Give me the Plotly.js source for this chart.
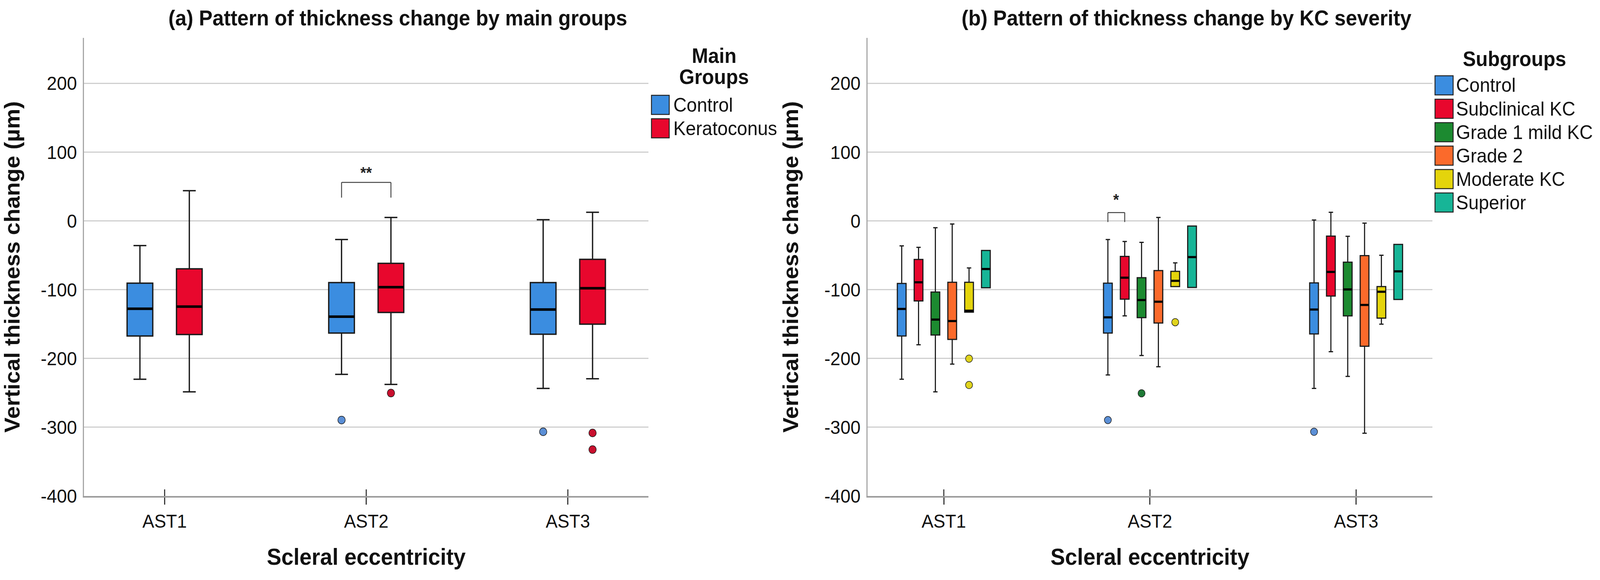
<!DOCTYPE html>
<html>
<head>
<meta charset="utf-8">
<script src="https://cdn.plot.ly/plotly-3.0.1.min.js"></script>
<style>
html, body { margin: 0; padding: 0; background: #ffffff; overflow: hidden; }
#chart { width: 4325px; height: 1485px; transform-origin: 0 0; }
</style>
</head>
<body>
<div id="chart"></div>
<script>
// ---------------- DATA ----------------
const categories = ['AST1', 'AST2', 'AST3'];
const yTickVals = [-400, -300, -200, -100, 0, 100, 200];
const yTickText = ['-400', '-300', '-200', '-100', '0', '100', '200'];

// (a) main groups: one row per group, one value per category
const mainGroups   = ['Control', 'Keratoconus'];
const mainLower    = [[-230.3, -223.2, -243.6], [-248.6, -237.8, -229.5]];
const mainQ1       = [[-167.3, -163.1, -164.8], [-165.2, -133.1, -150.2]];
const mainMedian   = [[-127.7, -139.3, -128.9], [-124.7,  -96.4,  -98.0]];
const mainQ3       = [[ -90.5,  -89.7,  -89.7], [ -69.7,  -61.7,  -55.9]];
const mainUpper    = [[ -35.9,  -27.1,    1.7], [  43.8,    5.0,   12.5]];
const mainOutliers = [[[], [-289.5], [-306.6]], [[], [-250.3], [-308.3, -332.5]]];

// (b) subgroups
const subGroups   = ['Control', 'Subclinical KC', 'Grade 1 mild KC', 'Grade 2', 'Moderate KC', 'Superior'];
const subLower    = [[-230.3, -224.0, -243.6], [-180.2, -138.1, -190.2], [-248.6, -195.7, -226.1],
                     [-208.2, -212.0, -308.7], [-132.7,  -95.5, -150.2], [ -97.2,  -96.8, -114.3]];
const subQ1       = [[-167.3, -163.1, -164.4], [-116.4, -113.9, -109.3], [-166.0, -140.6, -138.1],
                     [-172.3, -148.5, -182.3], [-132.7,  -95.5, -141.4], [ -97.2,  -96.8, -114.3]];
const subMedian   = [[-128.0, -140.2, -128.9], [ -89.3,  -82.6,  -74.3], [-143.5, -115.1,  -99.7],
                     [-145.6, -117.6, -122.2], [-130.6,  -87.2, -103.0], [ -70.0,  -52.6,  -73.4]];
const subQ3       = [[ -91.0,  -90.5,  -90.1], [ -56.0,  -51.7,  -22.1], [-103.5,  -82.6,  -60.0],
                     [ -89.3,  -72.2,  -50.5], [ -89.3,  -73.4,  -95.5], [ -43.0,   -7.5,  -34.2]];
const subUpper    = [[ -36.3,  -27.1,    1.3], [ -38.4,  -30.0,   12.5], [ -10.0,  -31.3,  -22.5],
                     [  -4.6,    5.0,   -3.3], [ -68.4,  -61.0,  -50.0], [ -43.0,   -7.5,  -34.2]];
const subOutliers = [[[], [-289.5], [-306.6]], [[], [], []], [[], [-250.7], []],
                     [[], [], []], [[-200.3, -238.6], [-147.3], []], [[], [], []]];

// ---------------- STYLES / LAYOUT CONSTANTS ----------------
const mainFill        = ['#3b8de0', '#e8072d'];
const mainOutlierFill = ['#5b8fd6', '#c8102e'];
const subFill         = ['#3b8de0', '#e8072d', '#1c8a30', '#fb6a2b', '#e4d40c', '#17b597'];
const subOutlierFill  = ['#5b8fd6', '#c8102e', '#1f7a36', '#f07030', '#e0d41e', '#20a890'];

const W = 4325, H = 1485, PLOT_TOP = 97, PLOT_BOTTOM = 1270;
const BOXGAP = 0.51, BOXGROUPGAP = 0.48;
const FONT = 'Liberation Sans, Arial, Helvetica, sans-serif';
const INK = '#111111';
const px = v => v / W;
const py = v => (PLOT_BOTTOM - v) / (PLOT_BOTTOM - PLOT_TOP);
const slotOffset = (k, n) => (-0.5 + (k + 0.5) / n) * (1 - BOXGAP);

// the window may be narrower than the 4325x1485 design: stretch the drawing to fill it exactly
(function fit() {
  const sx = window.innerWidth / W, sy = window.innerHeight / H;
  if (Math.abs(sx - 1) > 0.002 || Math.abs(sy - 1) > 0.002) {
    document.getElementById('chart').style.transform = 'scale(' + sx + ',' + sy + ')';
  }
})();

// ---------------- TRACES ----------------
function boxTraces(panel, xa, ya, names, lower, q1, med, q3, upper, outl, fills, ofills, lw, mw, ms) {
  const main = [], medians = [];
  names.forEach((name, k) => {
    const t = {
      type: 'box', name: name, xaxis: xa, yaxis: ya, orientation: 'v', x: categories,
      q1: q1[k], median: med[k], q3: q3[k], lowerfence: lower[k], upperfence: upper[k],
      offsetgroup: panel + k, fillcolor: fills[k],
      line: { color: '#1a1a1a', width: lw }, whiskerwidth: 0.5,
      showlegend: false, hoverinfo: 'skip'
    };
    if (outl[k].some(r => r.length)) {
      t.y = outl[k].map(r => (r.length ? r : [null]));
      t.boxpoints = 'outliers';
      t.pointpos = 0;
      t.jitter = 0;
      t.marker = { color: ofills[k], size: ms, line: { color: '#1d1d1d', width: 1.5 } };
    } else {
      t.boxpoints = false;
    }
    main.push(t);
    medians.push({
      type: 'box', xaxis: xa, yaxis: ya, orientation: 'v', x: categories,
      q1: med[k], median: med[k], q3: med[k], lowerfence: med[k], upperfence: med[k],
      offsetgroup: panel + k, fillcolor: 'rgba(0,0,0,0)',
      line: { color: '#000000', width: mw }, whiskerwidth: 0, boxpoints: false,
      showlegend: false, hoverinfo: 'skip'
    });
  });
  return main.concat(medians);
}

const traces = [].concat(
  boxTraces('L', 'x', 'y', mainGroups, mainLower, mainQ1, mainMedian, mainQ3, mainUpper,
            mainOutliers, mainFill, mainOutlierFill, 3.5, 6.5, 20),
  boxTraces('R', 'x2', 'y2', subGroups, subLower, subQ1, subMedian, subQ3, subUpper,
            subOutliers, subFill, subOutlierFill, 3, 5.5, 19)
);

// ---------------- AXES ----------------
function xaxisCfg(domain, range, anchor) {
  return {
    domain: domain, range: range, anchor: anchor, type: 'category',
    categoryorder: 'array', categoryarray: categories,
    showline: true, linecolor: '#9c9c9c', linewidth: 4, showgrid: false, zeroline: false,
    ticks: 'outside', ticklen: 18, tickwidth: 3, tickcolor: '#3a3a3a', ticklabelstandoff: 1,
    tickfont: { family: FONT, size: 48, color: INK },
    title: { text: '<b>Scleral eccentricity</b>', font: { family: FONT, size: 59, color: INK }, standoff: 46 },
    fixedrange: true
  };
}
function yaxisCfg(anchor) {
  return {
    domain: [0, 1], anchor: anchor, range: [-400, 266], type: 'linear',
    tickmode: 'array', tickvals: yTickVals, ticktext: yTickText,
    showline: true, linecolor: '#a8a8a8', linewidth: 3,
    showgrid: true, gridcolor: '#cfcfcf', gridwidth: 3, zeroline: false,
    ticks: '', ticklabelstandoff: 6,
    tickfont: { family: FONT, size: 49, color: INK },
    title: { text: '<b>Vertical thickness change (µm)</b>', font: { family: FONT, size: 58, color: INK }, standoff: 52 },
    fixedrange: true
  };
}

// ---------------- SHAPES & ANNOTATIONS ----------------
const shapes = [];
const annotations = [];

[['x', 'y'], ['x2', 'y2']].forEach(([xr, yr]) => {
  categories.forEach((c, i) => {
    shapes.push({ type: 'line', xref: xr, yref: yr, x0: i, x1: i, ysizemode: 'pixel', yanchor: -400,
                  y0: 0, y1: 17, line: { color: '#3a3a3a', width: 3 } });
  });
});

function bracket(xr, yr, cat, a, b, n, low, high, starY, label) {
  const xa = cat + slotOffset(a, n), xb = cat + slotOffset(b, n);
  const ln = { color: '#444444', width: 2.5 };
  shapes.push({ type: 'line', xref: xr, yref: yr, x0: xa, x1: xa, y0: low, y1: high, line: ln });
  shapes.push({ type: 'line', xref: xr, yref: yr, x0: xb, x1: xb, y0: low, y1: high, line: ln });
  shapes.push({ type: 'line', xref: xr, yref: yr, x0: xa, x1: xb, y0: high, y1: high, line: ln });
  annotations.push({ xref: xr, yref: yr, x: (xa + xb) / 2, y: starY, text: '<b>' + label + '</b>',
                     showarrow: false, font: { family: FONT, size: 40, color: '#222' } });
}
bracket('x', 'y', 1, 0, 1, 2, 33.8, 55.9, 70, '**');
bracket('x2', 'y2', 1, 0, 1, 6, -1.7, 12.1, 31, '*');

annotations.push({ xref: 'paper', yref: 'paper', x: px(1075), y: py(46), xanchor: 'center', yanchor: 'middle',
  text: '<b>(a) Pattern of thickness change by main groups</b>', showarrow: false,
  font: { family: FONT, size: 55, color: INK } });
annotations.push({ xref: 'paper', yref: 'paper', x: px(3207), y: py(46), xanchor: 'center', yanchor: 'middle',
  text: '<b>(b) Pattern of thickness change by KC severity</b>', showarrow: false,
  font: { family: FONT, size: 55, color: INK } });

function legend(titles, names, fills, swX0, swX1, top0, step, size, textX) {
  titles.forEach(t => annotations.push({ xref: 'paper', yref: 'paper', x: px(t.x), y: py(t.y),
    xanchor: 'center', yanchor: 'middle', text: '<b>' + t.text + '</b>', showarrow: false,
    font: { family: FONT, size: 53, color: INK } }));
  names.forEach((nm, k) => {
    const top = top0 + k * step;
    shapes.push({ type: 'rect', xref: 'paper', yref: 'paper', x0: px(swX0), x1: px(swX1),
      y0: py(top + size), y1: py(top), fillcolor: fills[k], line: { color: '#222', width: 2.5 } });
    annotations.push({ xref: 'paper', yref: 'paper', x: px(textX), y: py(top + size / 2),
      xanchor: 'left', yanchor: 'middle', text: nm, showarrow: false,
      font: { family: FONT, size: 50, color: INK } });
  });
}
legend([{ text: 'Main', x: 1930, y: 143 }, { text: 'Groups', x: 1930, y: 196 }],
       mainGroups, mainFill, 1761, 1809, 244, 60, 49, 1818);
legend([{ text: 'Subgroups', x: 4094, y: 150 }],
       subGroups, subFill, 3879, 3928, 194, 60, 49, 3934);

// ---------------- LAYOUT ----------------
const layout = {
  width: W, height: H,
  margin: { l: 0, r: 0, t: PLOT_TOP, b: H - PLOT_BOTTOM, pad: 0 },
  paper_bgcolor: '#ffffff', plot_bgcolor: '#ffffff',
  font: { family: FONT, color: INK },
  showlegend: false,
  boxmode: 'group', boxgap: BOXGAP, boxgroupgap: BOXGROUPGAP,
  xaxis: xaxisCfg([227 / W, 1753 / W], [-0.4, 2.4], 'y'),
  yaxis: yaxisCfg('x'),
  xaxis2: xaxisCfg([2345 / W, 3872 / W], [-0.37, 2.37], 'y2'),
  yaxis2: yaxisCfg('x2'),
  shapes: shapes,
  annotations: annotations
};

Plotly.newPlot('chart', traces, layout, { staticPlot: true, displayModeBar: false });
</script>
</body>
</html>
